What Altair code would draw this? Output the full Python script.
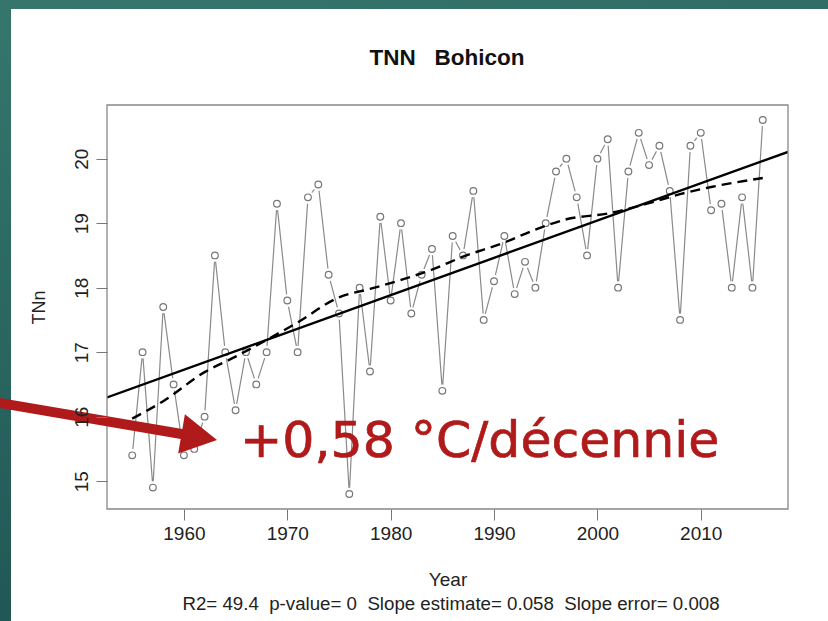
import altair as alt
import numpy as np
import pandas as pd

# ---- data ----
years = list(range(1955, 2017))
tnn = [15.4, 17.0, 14.9, 17.7, 16.5, 15.4, 15.5, 16.0, 18.5, 17.0,
       16.1, 17.0, 16.5, 17.0, 19.3, 17.8, 17.0, 19.4, 19.6, 18.2,
       17.6, 14.8, 18.0, 16.7, 19.1, 17.8, 19.0, 17.6, 18.2, 18.6,
       16.4, 18.8, 18.5, 19.5, 17.5, 18.1, 18.8, 17.9, 18.4, 18.0,
       19.0, 19.8, 20.0, 19.4, 18.5, 20.0, 20.3, 18.0, 19.8, 20.4,
       19.9, 20.2, 19.5, 17.5, 20.2, 20.4, 19.2, 19.3, 18.0, 19.4,
       18.0, 20.6]
lowess_years = [1955, 1958, 1962, 1965, 1968, 1971, 1975, 1978, 1981, 1984,
                1987, 1991, 1994, 1997, 2001, 2005, 2008, 2011, 2016]
lowess_vals = [15.97, 16.24, 16.69, 16.93, 17.19, 17.46, 17.85, 17.98, 18.12, 18.28,
               18.48, 18.70, 18.90, 19.06, 19.15, 19.31, 19.45, 19.56, 19.70]
x_ticks = [1960, 1970, 1980, 1990, 2000, 2010]
y_ticks = [15, 16, 17, 18, 19, 20]
title_text = "TNN\u00a0\u00a0\u00a0Bohicon"
stats_text = ("R2=\u00a049.4\u00a0\u00a0p-value=\u00a00\u00a0\u00a0Slope estimate=\u00a00.058"
              "\u00a0\u00a0Slope error=\u00a00.008")
note_text = "+0,58 °C/décennie"

# ---- layout ----
W, H = 681, 404
PL, PT = 107, 105
X_DOM = [1952.56, 2018.44]
Y_DOM = [14.568, 20.832]
RED = "#b01a1a"
GREY = "#8a8a8a"

df = pd.DataFrame({"year": years, "tnn": tnn})
slope, intercept = np.polyfit(years, tnn, 1)
reg = pd.DataFrame({"year": X_DOM, "v": [intercept + slope * x for x in X_DOM]})
lo = pd.DataFrame({"year": lowess_years, "v": lowess_vals})
one = pd.DataFrame({"k": [0]})

xs = alt.Scale(domain=X_DOM, nice=False, zero=False)
ys = alt.Scale(domain=Y_DOM, nice=False, zero=False)

x_axis = alt.Axis(values=x_ticks, format="d", tickSize=11, tickColor="#777777",
                  domain=False, grid=False, labelFont="Liberation Sans",
                  labelFontSize=19, labelColor="#222222", labelPadding=4,
                  title="Year", titleFont="Liberation Sans", titleFontSize=19,
                  titleFontWeight="normal", titleColor="#222222", titlePadding=27,
                  zindex=1)
y_axis = alt.Axis(values=y_ticks, format="d", tickSize=11, tickColor="#777777",
                  domain=False, grid=False, labelFont="Liberation Sans",
                  labelFontSize=19, labelColor="#222222", labelPadding=5,
                  labelAngle=270, labelAlign="center", labelBaseline="bottom",
                  title="TNn", titleFont="Liberation Sans", titleFontSize=18,
                  titleFontWeight="normal", titleColor="#222222", titlePadding=24,
                  zindex=1)

backdrop = alt.Chart(one).mark_rect(
    fill=alt.Gradient(gradient="linear", x1=0, y1=0, x2=0.3, y2=1,
                      stops=[alt.GradientStop(offset=0, color="#36766d"),
                             alt.GradientStop(offset=1, color="#1f5553")])
).encode(x=alt.value(-PL), x2=alt.value(828 - PL), y=alt.value(-PT), y2=alt.value(621 - PT))

panel = alt.Chart(one).mark_rect(fill="white").encode(
    x=alt.value(11 - PL), x2=alt.value(830 - PL),
    y=alt.value(9 - PT), y2=alt.value(625 - PT))

base = alt.Chart(df)
series_line = base.mark_line(color=GREY, strokeWidth=1.2).encode(
    x=alt.X("year:Q", scale=xs, axis=x_axis),
    y=alt.Y("tnn:Q", scale=ys, axis=y_axis))
halo = base.mark_circle(color="white", size=160, opacity=1).encode(
    x=alt.X("year:Q", scale=xs), y=alt.Y("tnn:Q", scale=ys))
pts = base.mark_point(shape="circle", filled=False, color="#777777", size=45,
                      strokeWidth=1.2, opacity=1).encode(
    x=alt.X("year:Q", scale=xs), y=alt.Y("tnn:Q", scale=ys))

reg_line = alt.Chart(reg).mark_line(color="black", strokeWidth=2.4, clip=True).encode(
    x=alt.X("year:Q", scale=xs), y=alt.Y("v:Q", scale=ys))
lo_line = alt.Chart(lo).mark_line(color="black", strokeWidth=2.4, strokeDash=[10, 6],
                                  interpolate="monotone").encode(
    x=alt.X("year:Q", scale=xs), y=alt.Y("v:Q", scale=ys))

box = alt.Chart(one).mark_rect(fillOpacity=0, stroke="#888888", strokeWidth=1.3).encode(
    x=alt.value(0), x2=alt.value(W), y=alt.value(0), y2=alt.value(H))

title = alt.Chart(one).mark_text(text=title_text, font="Liberation Sans", fontWeight="bold",
                                 fontSize=22.5, color="#111111", align="center",
                                 baseline="middle").encode(
    x=alt.value(447 - PL), y=alt.value(58 - PT))
stats = alt.Chart(one).mark_text(text=stats_text, font="Liberation Sans", fontSize=18.7,
                                 color="#222222", align="center",
                                 baseline="middle").encode(
    x=alt.value(451 - PL), y=alt.value(604 - PT))

note = alt.Chart(one).mark_text(text=note_text, font="DejaVu Sans", fontSize=50.5,
                                color=RED, stroke=RED, strokeWidth=0.7,
                                align="left", baseline="alphabetic").encode(
    x=alt.value(240 - PL), y=alt.value(457 - PT))
shaft = alt.Chart(one).mark_rule(color=RED, strokeWidth=10).encode(
    x=alt.value(-10 - PL), x2=alt.value(186 - PL),
    y=alt.value(401.3 - PT), y2=alt.value(434.8 - PT))
head = alt.Chart(one).mark_point(shape="M-0.8,-1L1,0L-0.8,1Z", filled=True, color=RED,
                                 size=1600, angle=9.7, opacity=1).encode(
    x=alt.value(197.3 - PL), y=alt.value(436.6 - PT))

chart = alt.layer(backdrop, panel, series_line, halo, pts, reg_line, lo_line, box,
                  title, stats, note, shaft, head).properties(
    width=W, height=H,
    autosize=alt.AutoSizeParams(type="none"),
    padding={"left": PL, "top": PT, "right": 828 - PL - W, "bottom": 621 - PT - H},
    background="#2f6e67",
).configure_view(strokeWidth=0)

chart.save("out.html", embed_options={"renderer": "svg", "actions": False})
